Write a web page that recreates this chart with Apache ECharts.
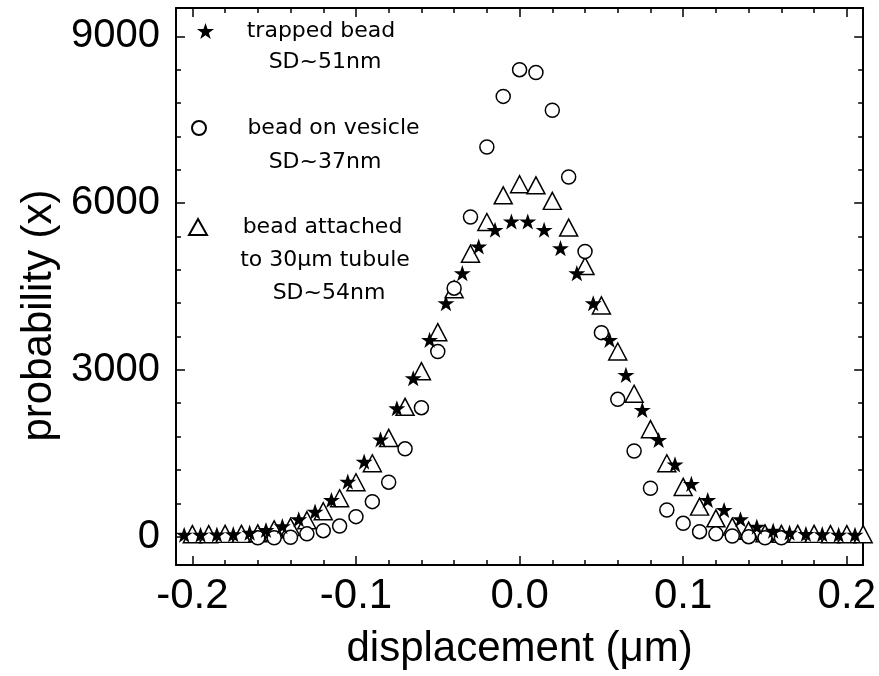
<!DOCTYPE html>
<html>
<head>
<meta charset="utf-8">
<script src="https://cdn.jsdelivr.net/npm/echarts@6/dist/echarts.min.js"></script>
<style>
html,body{margin:0;padding:0;background:#fff;}
#chart{width:879px;height:676px;}
</style>
</head>
<body>
<div id="chart"></div>
<script>
// ---- data ----
const starX = [-0.205,-0.195,-0.185,-0.175,-0.165,-0.155,-0.145,-0.135,-0.125,-0.115,-0.105,-0.095,-0.085,-0.075,-0.065,-0.055,-0.045,-0.035,-0.025,-0.015,-0.005,
               0.005,0.015,0.025,0.035,0.045,0.055,0.065,0.075,0.085,0.095,0.105,0.115,0.125,0.135,0.145,0.155,0.165,0.175,0.185,0.195,0.205];
const starY = [35,35,40,45,72,120,190,313,450,660,990,1350,1750,2310,2850,3540,4200,4740,5220,5520,5670,
               5670,5520,5190,4740,4200,3540,2910,2280,1740,1300,950,660,480,313,180,108,72,50,45,35,35];

const circleX = [-0.16,-0.15,-0.14,-0.13,-0.12,-0.11,-0.10,-0.09,-0.08,-0.07,-0.06,-0.05,-0.04,-0.03,-0.02,-0.01,0.00,
                 0.01,0.02,0.03,0.04,0.05,0.06,0.07,0.08,0.09,0.10,0.11,0.12,0.13,0.14,0.15,0.16];
const circleY = [-20,-20,-10,50,108,190,360,630,980,1580,2320,3330,4470,5750,7010,7920,8400,
                 8350,7670,6470,5130,3670,2470,1540,870,480,240,90,50,12,0,-20,-20];

const triX = [-0.20,-0.19,-0.18,-0.17,-0.16,-0.15,-0.14,-0.13,-0.12,-0.11,-0.10,-0.09,-0.08,-0.07,-0.06,-0.05,-0.04,-0.03,-0.02,-0.01,0.00,
              0.01,0.02,0.03,0.04,0.05,0.06,0.07,0.08,0.09,0.10,0.11,0.12,0.13,0.14,0.15,0.16,0.17,0.18,0.19,0.20,0.21];
const triY = [45,45,50,50,60,132,175,295,457,690,978,1320,1776,2335,2977,3678,4450,5090,5660,6140,6340,
              6320,6040,5560,4870,4160,3330,2570,1933,1320,895,540,330,180,108,60,50,50,50,45,45,45];

const seriesNames = ['trapped bead', 'bead on vesicle', 'bead attached'];
const legendSecondLines = ['SD~51nm', 'SD~37nm', 'to 30\u03bcm tubule', 'SD~54nm'];
const xTitle = 'displacement (\u03bcm)';
const yTitle = 'probability (x)';

// ---- chart ----
const starPath = 'path://M50,0 L61.8,35.4 L99,35.4 L69,57.3 L80.4,92.7 L50,70.8 L19.6,92.7 L31,57.3 L1,35.4 L38.2,35.4 Z';
const zip = (xs, ys) => xs.map((x, i) => [x, ys[i]]);
const FONT = '"Liberation Sans", Arial, sans-serif';
const LFONT = '"DejaVu Sans", sans-serif';

const chart = echarts.init(document.getElementById('chart'), null, {renderer: 'canvas'});

const axisCommon = {
  axisLine: {show: true, onZero: false, lineStyle: {color: '#000', width: 2}},
  axisTick: {show: true, inside: true, length: 9, lineStyle: {color: '#000', width: 1.5}},
  minorTick: {show: true, splitNumber: 5, length: 5, lineStyle: {color: '#000', width: 1.5}},
  splitLine: {show: false},
  minorSplitLine: {show: false}
};

function legendItem(name, left, top, iw, ih, width) {
  return {
    data: [name], left: left, top: top, padding: 0, orient: 'horizontal',
    itemWidth: iw, itemHeight: ih, selectedMode: false,
    formatter: n => '{a|' + n + '}',
    textStyle: {rich: {a: {width: width, align: 'center', fontSize: 22, lineHeight: 22, fontFamily: LFONT, color: '#000'}}}
  };
}

function subText(txt, x, y) {
  return {type: 'text', x: x, y: y, style: {text: txt, font: '22px ' + LFONT, fill: '#000', textAlign: 'center', textVerticalAlign: 'middle'}};
}

const option = {
  animation: false,
  backgroundColor: '#fff',
  grid: {left: 176, right: 15, top: 8, bottom: 111, containLabel: false},
  xAxis: [
    Object.assign({}, axisCommon, {
      type: 'value', position: 'bottom', min: -0.21, max: 0.21, splitNumber: 4,
      axisLabel: {show: true, margin: 10, color: '#000', fontSize: 42, fontFamily: FONT,
        formatter: v => v.toFixed(1), showMinLabel: false, showMaxLabel: false},
      name: xTitle, nameLocation: 'middle', nameGap: 63,
      nameTextStyle: {color: '#000', fontSize: 42, fontFamily: FONT}
    }),
    Object.assign({}, axisCommon, {
      type: 'value', position: 'top', min: -0.21, max: 0.21, splitNumber: 4,
      axisLabel: {show: false}
    })
  ],
  yAxis: [
    Object.assign({}, axisCommon, {
      type: 'value', position: 'left', min: -510, max: 9510, splitNumber: 3,
      axisLabel: {show: true, margin: 16, color: '#000', fontSize: 40, fontFamily: FONT,
        formatter: v => String(Math.round(v)), showMinLabel: false, showMaxLabel: false},
      name: yTitle, nameLocation: 'middle', nameGap: 112, nameRotate: 90,
      nameTextStyle: {color: '#000', fontSize: 42, fontFamily: FONT, padding: [0, 58, 0, 0]}
    }),
    Object.assign({}, axisCommon, {
      type: 'value', position: 'right', min: -510, max: 9510, splitNumber: 3,
      axisLabel: {show: false}
    })
  ],
  legend: [
    legendItem(seriesNames[0], 197, 20, 17, 17, 204),
    legendItem(seriesNames[1], 191, 117, 14, 14, 245),
    legendItem(seriesNames[2], 188, 216, 18, 16, 221)
  ],
  graphic: [
    subText(legendSecondLines[0], 325, 62),
    subText(legendSecondLines[1], 325, 162),
    subText(legendSecondLines[2], 325, 260),
    subText(legendSecondLines[3], 329, 293)
  ],
  series: [
    {
      name: seriesNames[2], type: 'scatter', data: zip(triX, triY), z: 2,
      symbol: 'triangle', symbolSize: [18, 17],
      itemStyle: {color: '#fff', borderColor: '#000', borderWidth: 1.5, opacity: 1}
    },
    {
      name: seriesNames[1], type: 'scatter', data: zip(circleX, circleY), z: 3,
      symbol: 'circle', symbolSize: 14,
      itemStyle: {color: '#fff', borderColor: '#000', borderWidth: 1.5, opacity: 1}
    },
    {
      name: seriesNames[0], type: 'scatter', data: zip(starX, starY), z: 4,
      symbol: starPath, symbolSize: 17, symbolKeepAspect: true,
      itemStyle: {color: '#000', borderColor: '#000', borderWidth: 0, opacity: 1}
    }
  ]
};
chart.setOption(option);
</script>
</body>
</html>
